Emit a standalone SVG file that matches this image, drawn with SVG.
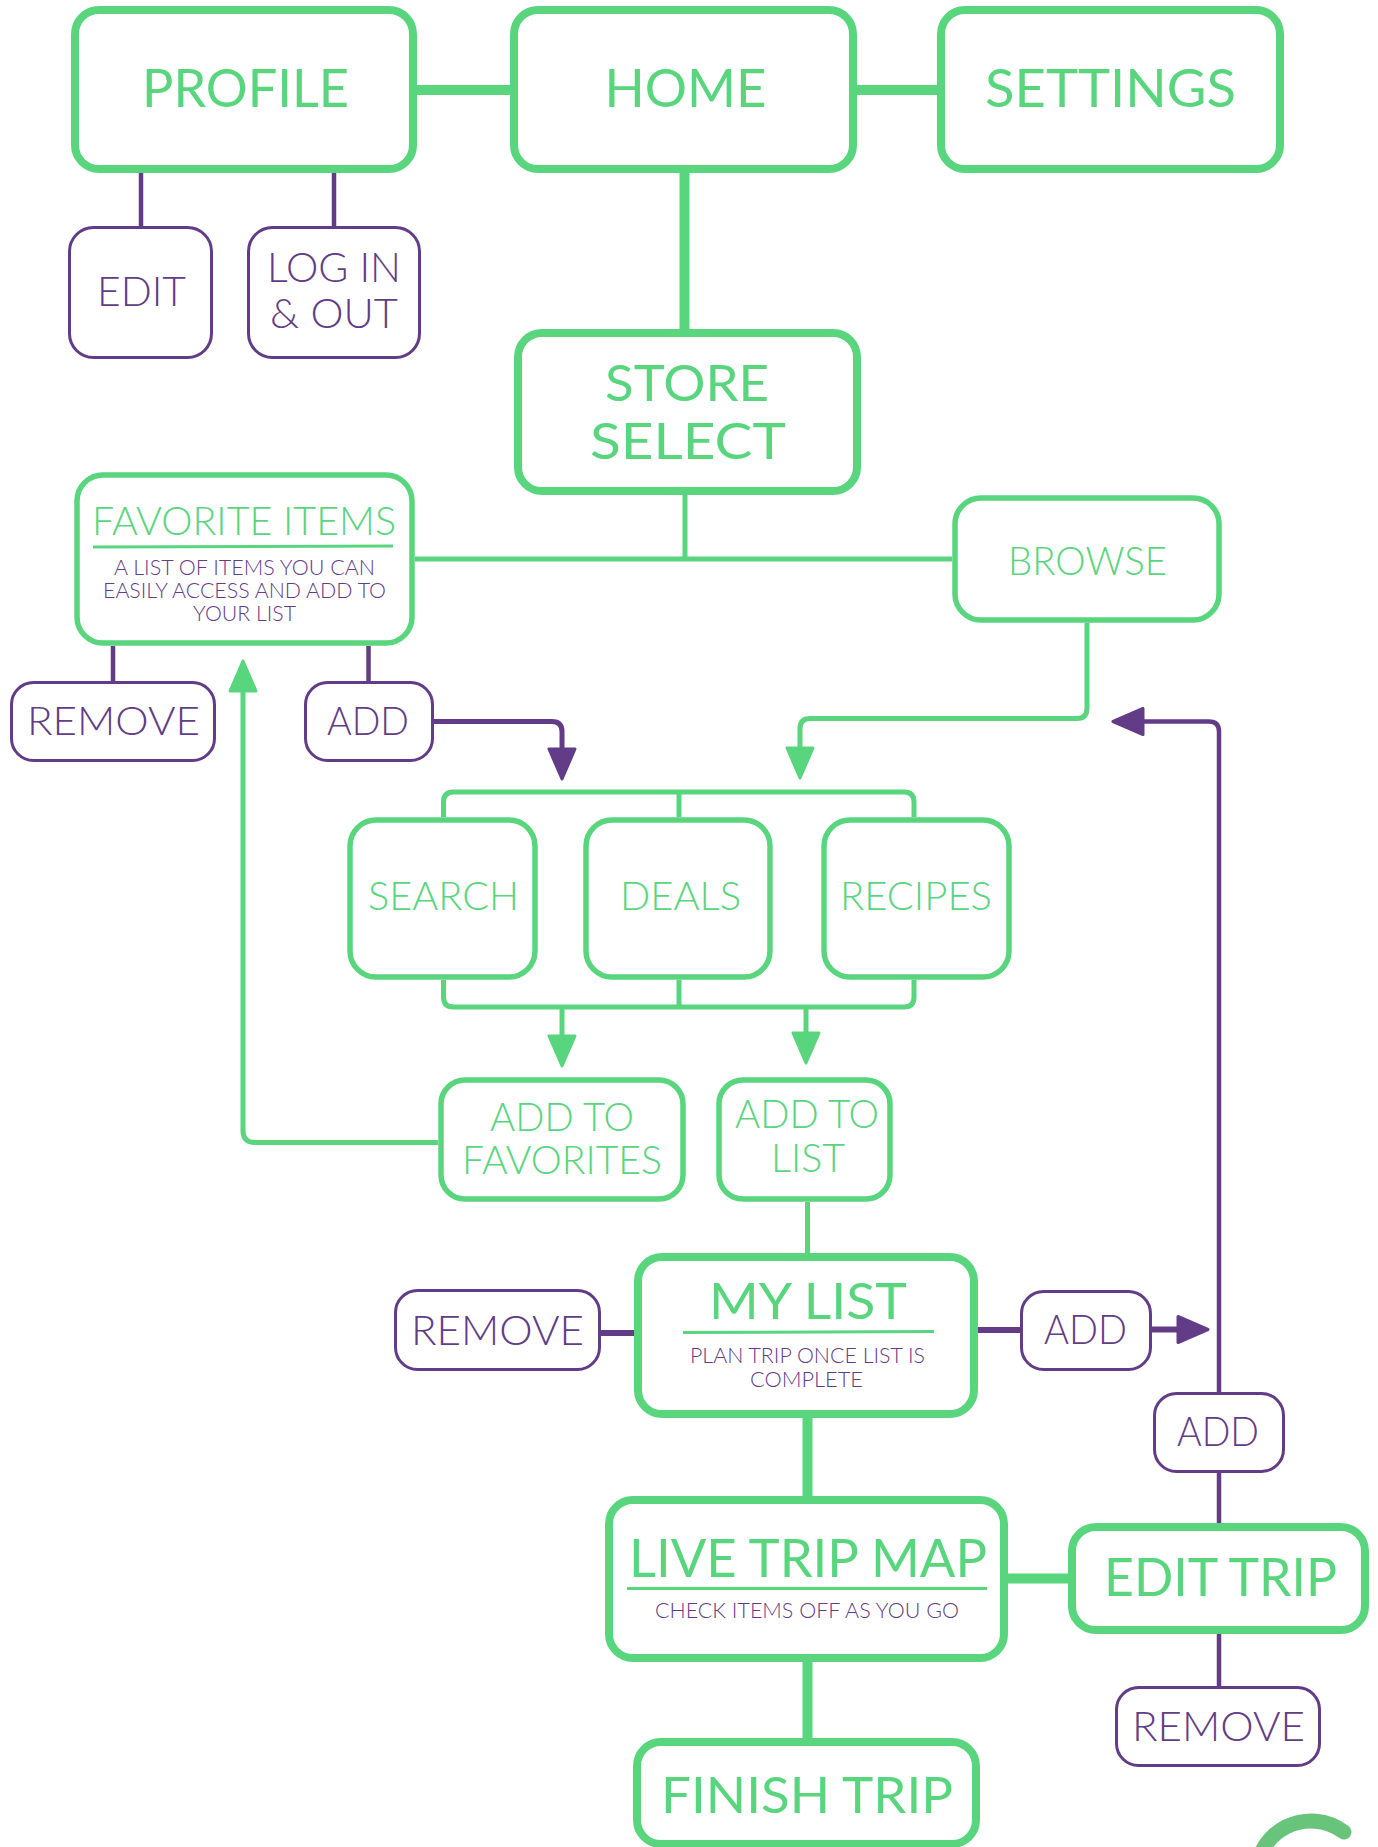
<svg xmlns="http://www.w3.org/2000/svg" width="1378" height="1847" viewBox="0 0 1378 1847">
  <style>
    .gk { fill: #ffffff; stroke: #59D57E; stroke-width: 8; }
    .gm { fill: #ffffff; stroke: #59D57E; stroke-width: 5.5; }
    .pb { fill: #ffffff; stroke: #623C86; stroke-width: 3; }
    .lg { fill: none; stroke: #59D57E; stroke-linecap: butt; stroke-linejoin: round; }
    .lp { fill: none; stroke: #623C86; stroke-linecap: butt; stroke-linejoin: round; }
    .w10 { stroke-width: 10; }
    .w5 { stroke-width: 5; }
    .w45 { stroke-width: 4.5; }
    .w6 { stroke-width: 6; }
    .ul { stroke: #59D57E; stroke-width: 3; }
    text { font-family: Lato, "Liberation Sans", sans-serif; font-weight: 400; text-anchor: middle; }
    .light { font-weight: 300; }
    .tg { fill: #59D57E; }
    .tp { fill: #623C86; font-weight: 300; }
  </style>
  <defs>
    <marker id="ah-green" viewBox="0 0 34 30" refX="1" refY="15" markerWidth="34" markerHeight="30" markerUnits="userSpaceOnUse" orient="auto">
      <path d="M2,2 L32,15 L2,28 Z" fill="#59D57E" stroke="#59D57E" stroke-width="3" stroke-linejoin="round"/>
    </marker>
    <marker id="ah-purple" viewBox="0 0 34 30" refX="1" refY="15" markerWidth="34" markerHeight="30" markerUnits="userSpaceOnUse" orient="auto">
      <path d="M2,2 L32,15 L2,28 Z" fill="#623C86" stroke="#623C86" stroke-width="3" stroke-linejoin="round"/>
    </marker>
  </defs>

  <rect width="1378" height="1847" fill="#ffffff"/>

  <g id="connectors">
    <!-- main spine, thick green -->
    <line class="lg w10" x1="417" y1="90" x2="510" y2="90"/>
    <line class="lg w10" x1="857" y1="90" x2="937" y2="90"/>
    <line class="lg w10" x1="684.5" y1="173" x2="684.5" y2="329"/>
    <line class="lg w10" x1="807.5" y1="1418" x2="807.5" y2="1496"/>
    <line class="lg w10" x1="1008" y1="1578.5" x2="1068" y2="1578.5"/>
    <line class="lg w10" x1="807.5" y1="1662" x2="807.5" y2="1738"/>

    <!-- store select branches -->
    <line class="lg w5" x1="685" y1="495" x2="685" y2="559"/>
    <line class="lg w5" x1="415" y1="559" x2="952" y2="559"/>
    <path class="lg w5" d="M1087,623 V708 Q1087,718.5 1077,718.5 H810 Q800,718.5 800,728.5 V747" marker-end="url(#ah-green)"/>

    <!-- brackets around search / deals / recipes -->
    <path class="lg w5" d="M443.5,817 V802 Q443.5,792 453.5,792 H904 Q914,792 914,802 V817"/>
    <line class="lg w5" x1="679" y1="792" x2="679" y2="817"/>
    <path class="lg w5" d="M443.5,980 V997 Q443.5,1007 453.5,1007 H904 Q914,1007 914,997 V980"/>
    <line class="lg w5" x1="679" y1="980" x2="679" y2="1007"/>
    <line class="lg w5" x1="562" y1="1007" x2="562" y2="1035" marker-end="url(#ah-green)"/>
    <line class="lg w5" x1="806" y1="1007" x2="806" y2="1032" marker-end="url(#ah-green)"/>

    <!-- add to favorites back up to favorite items -->
    <path class="lg w5" d="M438,1142.5 H255 Q243,1142.5 243,1130.5 V692" marker-end="url(#ah-green)"/>
    <line class="lg w5" x1="807.5" y1="1202" x2="807.5" y2="1253"/>

    <!-- purple sub-actions -->
    <line class="lp w45" x1="141" y1="173" x2="141" y2="226"/>
    <line class="lp w45" x1="334" y1="173" x2="334" y2="226"/>
    <line class="lp w45" x1="113" y1="646" x2="113" y2="681"/>
    <line class="lp w45" x1="368.5" y1="646" x2="368.5" y2="681"/>
    <path class="lp w5" d="M434,721.5 H552 Q562,721.5 562,731.5 V748" marker-end="url(#ah-purple)"/>
    <line class="lp w6" x1="601" y1="1333" x2="634" y2="1333"/>
    <line class="lp w6" x1="978" y1="1330" x2="1021" y2="1330"/>
    <line class="lp w6" x1="1152" y1="1329.5" x2="1177" y2="1329.5" marker-end="url(#ah-purple)"/>
    <line class="lp w45" x1="1219" y1="1523" x2="1219" y2="1473"/>
    <path class="lp w45" d="M1219,1392 V731.5 Q1219,721.5 1209,721.5 H1144" marker-end="url(#ah-purple)"/>
    <line class="lp w45" x1="1219" y1="1634" x2="1219" y2="1686"/>
  </g>

  <g id="profile">
    <rect class="gk" x="75" y="10" width="338" height="159" rx="24"/>
    <text class="tg" x="245.5" y="107" font-size="53" textLength="207" lengthAdjust="spacingAndGlyphs">PROFILE</text>
  </g>
  <g id="home">
    <rect class="gk" x="514" y="10" width="339" height="159" rx="24"/>
    <text class="tg" x="685.5" y="107" font-size="53" textLength="162" lengthAdjust="spacingAndGlyphs">HOME</text>
  </g>
  <g id="settings">
    <rect class="gk" x="941" y="10" width="339" height="159" rx="24"/>
    <text class="tg" x="1110.5" y="107" font-size="53" textLength="251" lengthAdjust="spacingAndGlyphs">SETTINGS</text>
  </g>
  <g id="edit">
    <rect class="pb" x="69.5" y="227.5" width="142" height="130" rx="24"/>
    <text class="tp" x="141.5" y="306" font-size="42" textLength="89" lengthAdjust="spacingAndGlyphs">EDIT</text>
  </g>
  <g id="log-in-out">
    <rect class="pb" x="248.5" y="227.5" width="171" height="130" rx="24"/>
    <text class="tp" x="334" y="282" font-size="42" textLength="134" lengthAdjust="spacingAndGlyphs">LOG IN</text>
    <text class="tp" x="334" y="328" font-size="42" textLength="128" lengthAdjust="spacingAndGlyphs">&amp; OUT</text>
  </g>
  <g id="store-select">
    <rect class="gk" x="518" y="333" width="339" height="158" rx="24"/>
    <text class="tg" x="687" y="401" font-size="50" textLength="164" lengthAdjust="spacingAndGlyphs">STORE</text>
    <text class="tg" x="688" y="459" font-size="50" textLength="196" lengthAdjust="spacingAndGlyphs">SELECT</text>
  </g>
  <g id="favorite-items">
    <rect class="gm" x="77" y="475" width="335" height="168" rx="26"/>
    <text class="tg light" x="244" y="535" font-size="39" textLength="304" lengthAdjust="spacingAndGlyphs">FAVORITE ITEMS</text>
    <line class="ul" x1="93" y1="547" x2="393" y2="546"/>
    <text class="tp" x="244.5" y="575" font-size="21" textLength="261" lengthAdjust="spacingAndGlyphs">A LIST OF ITEMS YOU CAN</text>
    <text class="tp" x="244.5" y="598" font-size="21" textLength="283" lengthAdjust="spacingAndGlyphs">EASILY ACCESS AND ADD TO</text>
    <text class="tp" x="244.5" y="621" font-size="21" textLength="103" lengthAdjust="spacingAndGlyphs">YOUR LIST</text>
  </g>
  <g id="browse">
    <rect class="gm" x="955" y="498" width="264" height="122" rx="26"/>
    <text class="tg light" x="1087.5" y="575" font-size="39" textLength="159" lengthAdjust="spacingAndGlyphs">BROWSE</text>
  </g>
  <g id="favorites-remove">
    <rect class="pb" x="11.5" y="682.5" width="203" height="78" rx="22"/>
    <text class="tp" x="113.5" y="735" font-size="40" textLength="173" lengthAdjust="spacingAndGlyphs">REMOVE</text>
  </g>
  <g id="favorites-add">
    <rect class="pb" x="305.5" y="682.5" width="127" height="78" rx="22"/>
    <text class="tp" x="368" y="735" font-size="40" textLength="82" lengthAdjust="spacingAndGlyphs">ADD</text>
  </g>
  <g id="search">
    <rect class="gm" x="350" y="820" width="185" height="157" rx="26"/>
    <text class="tg light" x="443.5" y="910" font-size="39" textLength="151" lengthAdjust="spacingAndGlyphs">SEARCH</text>
  </g>
  <g id="deals">
    <rect class="gm" x="586" y="820" width="184" height="157" rx="26"/>
    <text class="tg light" x="680.5" y="910" font-size="39" textLength="121" lengthAdjust="spacingAndGlyphs">DEALS</text>
  </g>
  <g id="recipes">
    <rect class="gm" x="824" y="820" width="185" height="157" rx="26"/>
    <text class="tg light" x="916" y="910" font-size="39" textLength="152" lengthAdjust="spacingAndGlyphs">RECIPES</text>
  </g>
  <g id="add-to-favorites">
    <rect class="gm" x="441" y="1080" width="242" height="119" rx="24"/>
    <text class="tg light" x="562" y="1131" font-size="39" textLength="144" lengthAdjust="spacingAndGlyphs">ADD TO</text>
    <text class="tg light" x="562" y="1174" font-size="39" textLength="200" lengthAdjust="spacingAndGlyphs">FAVORITES</text>
  </g>
  <g id="add-to-list">
    <rect class="gm" x="719" y="1080" width="171" height="119" rx="24"/>
    <text class="tg light" x="807" y="1128" font-size="39" textLength="144" lengthAdjust="spacingAndGlyphs">ADD TO</text>
    <text class="tg light" x="808" y="1172" font-size="39" textLength="74" lengthAdjust="spacingAndGlyphs">LIST</text>
  </g>
  <g id="my-list">
    <rect class="gk" x="638" y="1257" width="336" height="157" rx="24"/>
    <text class="tg" x="808" y="1319" font-size="50" textLength="198" lengthAdjust="spacingAndGlyphs">MY LIST</text>
    <line class="ul" x1="683" y1="1332.5" x2="934" y2="1331.5"/>
    <text class="tp" x="807.5" y="1363" font-size="21" textLength="235" lengthAdjust="spacingAndGlyphs">PLAN TRIP ONCE LIST IS</text>
    <text class="tp" x="806.5" y="1387" font-size="21" textLength="113" lengthAdjust="spacingAndGlyphs">COMPLETE</text>
  </g>
  <g id="my-list-remove">
    <rect class="pb" x="395.5" y="1290.5" width="204" height="79" rx="22"/>
    <text class="tp" x="497.5" y="1345" font-size="42" textLength="173" lengthAdjust="spacingAndGlyphs">REMOVE</text>
  </g>
  <g id="my-list-add">
    <rect class="pb" x="1021.5" y="1291.5" width="129" height="78" rx="22"/>
    <text class="tp" x="1085.5" y="1344" font-size="42" textLength="83" lengthAdjust="spacingAndGlyphs">ADD</text>
  </g>
  <g id="edit-trip-add">
    <rect class="pb" x="1154.5" y="1393.5" width="129" height="78" rx="22"/>
    <text class="tp" x="1218" y="1446" font-size="42" textLength="82" lengthAdjust="spacingAndGlyphs">ADD</text>
  </g>
  <g id="live-trip-map">
    <rect class="gk" x="609" y="1500" width="395" height="158" rx="24"/>
    <text class="tg" x="808" y="1577" font-size="52" textLength="358" lengthAdjust="spacingAndGlyphs">LIVE TRIP MAP</text>
    <line class="ul" x1="627" y1="1588.5" x2="987" y2="1588.5"/>
    <text class="tp" x="807" y="1618" font-size="21" textLength="304" lengthAdjust="spacingAndGlyphs">CHECK ITEMS OFF AS YOU GO</text>
  </g>
  <g id="edit-trip">
    <rect class="gk" x="1072" y="1527" width="293" height="103" rx="24"/>
    <text class="tg" x="1220.5" y="1596" font-size="52" textLength="233" lengthAdjust="spacingAndGlyphs">EDIT TRIP</text>
  </g>
  <g id="edit-trip-remove">
    <rect class="pb" x="1116.5" y="1687.5" width="203" height="78" rx="22"/>
    <text class="tp" x="1218.5" y="1741" font-size="42" textLength="173" lengthAdjust="spacingAndGlyphs">REMOVE</text>
  </g>
  <g id="finish-trip">
    <rect class="gk" x="637" y="1742" width="339" height="102" rx="24"/>
    <text class="tg" x="807" y="1813" font-size="50" textLength="292" lengthAdjust="spacingAndGlyphs">FINISH TRIP</text>
  </g>

  <!-- partial ring in the lower right corner -->
  <path d="M1256,1876 A55,55 0 0 1 1344,1832" fill="none" stroke="#68C47B" stroke-width="15" stroke-linecap="round"/>
</svg>
